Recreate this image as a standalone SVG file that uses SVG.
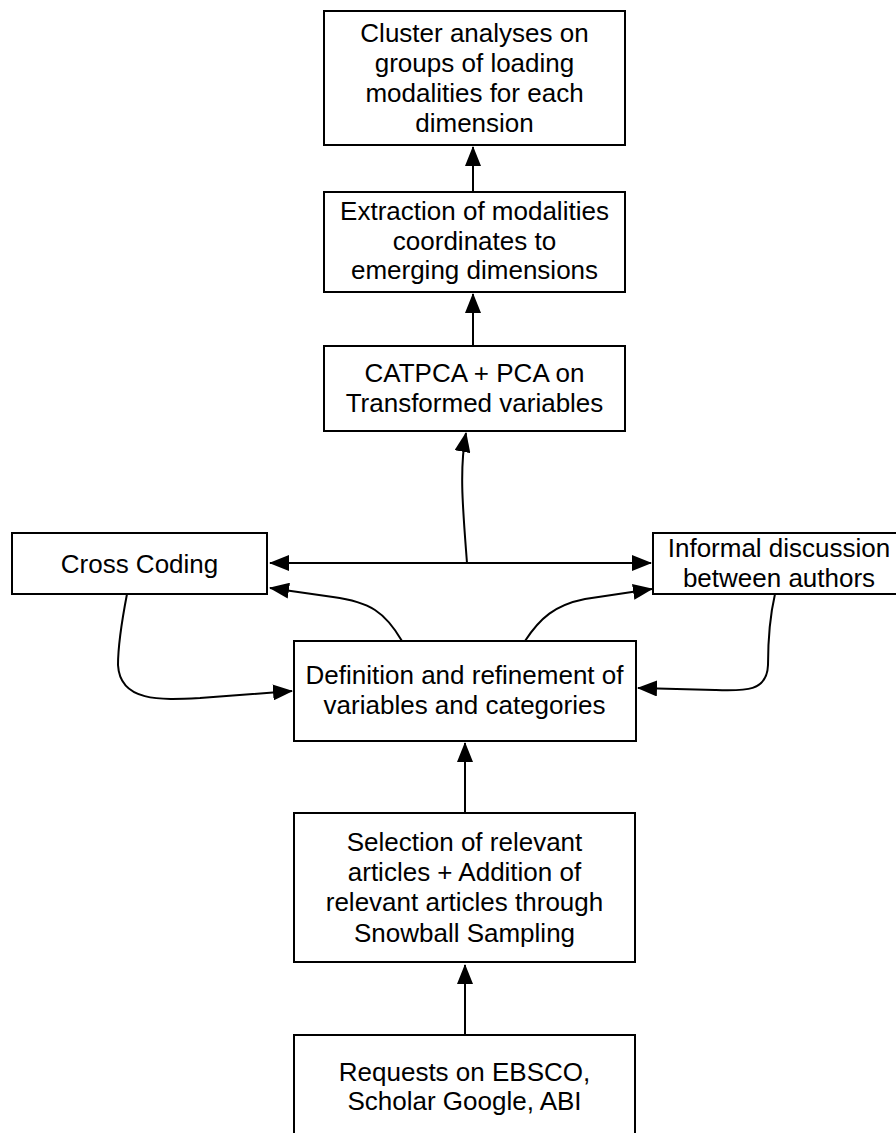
<svg xmlns="http://www.w3.org/2000/svg" width="896" height="1133" viewBox="0 0 896 1133">
<style>
.box{fill:#fff;stroke:#000;stroke-width:2}
text{font-family:"Liberation Sans",Arial,Helvetica,sans-serif;font-size:26px;fill:#000;text-anchor:middle}
.c{fill:none;stroke:#000;stroke-width:2}
</style>
<defs>
<marker id="ah" markerUnits="userSpaceOnUse" markerWidth="20" markerHeight="16" refX="19" refY="8" orient="auto-start-reverse" viewBox="0 0 20 16">
<path d="M0,0 L20,8 L0,16 Z" fill="#000"/>
</marker>
</defs>
<rect width="896" height="1133" fill="#fff"/>
<g id="connectors">
<path class="c" d="M473,192 L473,147" marker-end="url(#ah)"/>
<path class="c" d="M473,346 L473,294" marker-end="url(#ah)"/>
<path class="c" d="M465,813 L465,743" marker-end="url(#ah)"/>
<path class="c" d="M465,1035 L465,965" marker-end="url(#ah)"/>
<path class="c" d="M270,563 L651,563" marker-start="url(#ah)" marker-end="url(#ah)"/>
<path class="c" d="M467,563 C463,510 459,470 466,433" marker-end="url(#ah)"/>
<path class="c" d="M402,641 C385,612 370,602 333,597 L270,588" marker-end="url(#ah)"/>
<path class="c" d="M525,641 C540,618 555,605 585,599 L652,589" marker-end="url(#ah)"/>
<path class="c" d="M127,594 C122,620 118,645 118,665 C120,702 160,700 200,698 L292,691" marker-end="url(#ah)"/>
<path class="c" d="M775,594 C769,620 768,645 768,665 C767,692 745,691 715,690 L638,688" marker-end="url(#ah)"/>
</g>
<g id="cluster">
<rect class="box" x="324" y="11" width="301" height="134"/>
<text x="474.5" y="42">Cluster analyses on</text>
<text x="474.5" y="72">groups of loading</text>
<text x="474.5" y="102">modalities for each</text>
<text x="474.5" y="132">dimension</text>
</g>
<g id="extraction">
<rect class="box" x="324" y="192" width="301" height="100"/>
<text x="474.5" y="220">Extraction of modalities</text>
<text x="474.5" y="250">coordinates to</text>
<text x="474.5" y="279">emerging dimensions</text>
</g>
<g id="catpca">
<rect class="box" x="324" y="346" width="301" height="85"/>
<text x="474.5" y="382">CATPCA + PCA on</text>
<text x="474.5" y="412">Transformed variables</text>
</g>
<g id="crosscoding">
<rect class="box" x="12" y="533" width="255" height="61"/>
<text x="139.5" y="573">Cross Coding</text>
</g>
<g id="informal">
<rect class="box" x="653" y="533" width="252" height="61"/>
<text x="779" y="557">Informal discussion</text>
<text x="779" y="587">between authors</text>
</g>
<g id="definition">
<rect class="box" x="294" y="641" width="342" height="100"/>
<text x="464.5" y="684">Definition and refinement of</text>
<text x="464.5" y="714">variables and categories</text>
</g>
<g id="selection">
<rect class="box" x="294" y="813" width="341" height="149"/>
<text x="464.5" y="851">Selection of relevant</text>
<text x="464.5" y="881">articles + Addition of</text>
<text x="464.5" y="911">relevant articles through</text>
<text x="464.5" y="942">Snowball Sampling</text>
</g>
<g id="requests">
<rect class="box" x="294" y="1035" width="341" height="110"/>
<text x="464.5" y="1081">Requests on EBSCO,</text>
<text x="464.5" y="1110">Scholar Google, ABI</text>
</g>
</svg>
